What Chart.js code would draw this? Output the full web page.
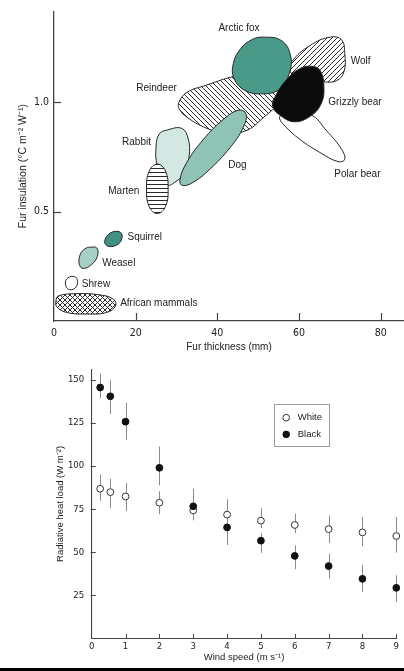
<!DOCTYPE html>
<html><head><meta charset="utf-8">
<script src="https://cdn.jsdelivr.net/npm/chart.js@4.4.1/dist/chart.umd.min.js"></script>
<style>
html,body{margin:0;padding:0;background:#fff;width:404px;height:671px;overflow:hidden}
#top{position:absolute;left:0;top:0;width:404px;height:356px}
#bot{position:absolute;left:0;top:356px;width:404px;height:312px}
#rule{position:absolute;left:0;top:668px;width:404px;height:3px;background:#000}
</style></head><body>
<div id="top"><canvas id="c1"></canvas></div>
<div id="bot"><canvas id="c2"></canvas></div>
<div id="rule"></div>
<script>
// ---------- DATA: upper panel (fur thickness mm, fur insulation °C m-2 W-1) ----------
const topXTicks = [0, 20, 40, 60, 80];
const topYTicks = [0.5, 1.0];

const reindeerOutline = [[30.5,0.995],[32.5,1.044],[37.4,1.078],[43.1,1.113],[49.6,1.139],[55.7,1.123],[57.1,1.071],[55.3,1.003],[51.2,0.928],[46.8,0.868],[41.4,0.860],[36.6,0.887],[32.5,0.932],[30.8,0.965]];
const wolfOutline = [[58.2,1.184],[62.7,1.259],[67.6,1.297],[70.4,1.285],[71.2,1.221],[71.0,1.139],[69.2,1.098],[65.5,1.093],[60.2,1.101],[57.9,1.139]];
const polarBearOutline = [[56.1,0.943],[62.7,0.943],[66.8,0.868],[70.4,0.785],[71.2,0.739],[69.6,0.728],[65.1,0.770],[60.2,0.830],[56.6,0.890],[55.2,0.928]];
const rabbitOutline = [[25.8,0.855],[27.6,0.872],[31.3,0.880],[32.9,0.830],[33.1,0.755],[32.1,0.680],[29.6,0.634],[27.6,0.622],[25.3,0.710],[25.0,0.800]];
const martenOutline = [[25.3,0.717],[27.3,0.685],[27.95,0.604],[27.3,0.523],[25.3,0.491],[23.3,0.523],[22.65,0.604],[23.3,0.685]];
const dogOutline = [[30.8,0.642],[32.5,0.724],[36.6,0.830],[41.4,0.920],[45.1,0.963],[47.0,0.947],[46.3,0.883],[43.1,0.792],[38.2,0.694],[34.1,0.634],[31.5,0.619]];
const arcticFoxOutline = [[51.2,1.297],[55.7,1.281],[57.9,1.214],[57.6,1.131],[55.2,1.059],[51.2,1.038],[46.8,1.053],[44.1,1.108],[43.9,1.176],[45.7,1.244],[48.4,1.285]];
const grizzlyOutline = [[62.7,1.164],[65.1,1.146],[66.1,1.063],[65.3,0.988],[62.7,0.935],[59.0,0.910],[55.7,0.935],[53.5,0.983],[54.5,1.037],[57.0,1.104],[60.1,1.152]];
const squirrelOutline = [[13.7,0.401],[16.0,0.408],[16.7,0.386],[15.7,0.351],[13.3,0.341],[12.4,0.363]];
const weaselOutline = [[8.8,0.337],[10.5,0.333],[10.6,0.295],[9.2,0.258],[7.2,0.240],[6.2,0.258],[6.4,0.303],[7.6,0.330]];
const shrewOutline = [[4.7,0.204],[5.7,0.190],[5.4,0.155],[3.9,0.143],[2.9,0.160],[3.1,0.192]];
const africanOutline = [[1.1,0.115],[5.6,0.125],[11.3,0.119],[14.5,0.100],[15.1,0.070],[12.9,0.039],[8.0,0.032],[3.1,0.039],[0.7,0.065],[0.5,0.095]];

const labelText = ['Arctic fox','Wolf','Reindeer','Grizzly bear','Rabbit','Dog','Polar bear','Marten','Squirrel','Weasel','Shrew','African mammals'];
const labelX = [45.3, 75.1, 25.1, 73.7, 20.2, 44.9, 74.3, 17.1, 18.0, 11.8, 6.8, 16.2];
const labelY = [1.337, 1.187, 1.063, 1.000, 0.815, 0.712, 0.669, 0.595, 0.384, 0.262, 0.170, 0.083];

// ---------- DATA: lower panel ----------
const botXTicks = [0,1,2,3,4,5,6,7,8,9];
const botYTicks = [25,50,75,100,125,150];
const windSpeed = [0.25, 0.55, 1, 2, 3, 4, 5, 6, 7, 8, 9];
const whiteLoad = [86.8, 84.8, 82.3, 78.7, 74.2, 71.8, 68.3, 65.8, 63.4, 61.5, 59.4];
const whiteLow  = [79.8, 75.6, 73.9, 72.1, 68.5, 67.0, 64.0, 61.0, 55.4, 53.5, 49.8];
const whiteHigh = [95.0, 92.5, 90.0, 85.4, 79.0, 80.6, 75.6, 72.3, 71.2, 70.4, 70.4];
const blackLoad = [145.4, 140.3, 125.6, 98.9, 76.6, 64.4, 56.7, 47.9, 42.0, 34.6, 29.4];
const blackLow  = [139.1, 130.1, 115.1, 88.7, 72.0, 54.2, 49.6, 40.2, 34.8, 26.9, 21.3];
const blackHigh = [153.5, 149.7, 136.6, 111.2, 86.8, 69.0, 61.0, 54.0, 49.2, 42.7, 36.7];

// ---------- STYLE ----------
const SANS = "'Liberation Sans', Arial, sans-serif";
const NARROW = "'Liberation Sans Narrow', 'Arial Narrow', 'DejaVu Sans Condensed', sans-serif";
const INK = '#222';

const c1 = document.getElementById('c1');
const ctx1 = c1.getContext('2d');
function makePattern(kind){
  const t = kind === 'horiz' ? 4 : 5;
  const c = document.createElement('canvas'); c.width = t; c.height = t;
  const g = c.getContext('2d');
  g.fillStyle = '#fff'; g.fillRect(0,0,t,t);
  g.strokeStyle = '#2a2a2a'; g.lineWidth = 1;
  g.beginPath();
  if (kind === 'horiz') { g.moveTo(0,0.5); g.lineTo(t,0.5); }
  if (kind === 'back' || kind === 'cross') { for (let k=-1;k<=1;k++){ g.moveTo(k*t,0); g.lineTo(k*t+t,t);} }
  if (kind === 'fwd' || kind === 'cross') { for (let k=-1;k<=1;k++){ g.moveTo(k*t,t); g.lineTo(k*t+t,0);} }
  g.stroke();
  return ctx1.createPattern(c,'repeat');
}
const shapes = [ // back to front
  {name:'Reindeer', pts:reindeerOutline, fill:makePattern('back')},
  {name:'Wolf', pts:wolfOutline, fill:makePattern('fwd')},
  {name:'Polar bear', pts:polarBearOutline, fill:'#ffffff'},
  {name:'Rabbit', pts:rabbitOutline, fill:'#d3e8e3'},
  {name:'Marten', pts:martenOutline, fill:makePattern('horiz')},
  {name:'Dog', pts:dogOutline, fill:'#8fc3b6'},
  {name:'Arctic fox', pts:arcticFoxOutline, fill:'#4a9a8a'},
  {name:'Grizzly bear', pts:grizzlyOutline, fill:'#0b0b0b'},
  {name:'Squirrel', pts:squirrelOutline, fill:'#3f9181'},
  {name:'Weasel', pts:weaselOutline, fill:'#a6d0c6'},
  {name:'Shrew', pts:shrewOutline, fill:'#ffffff'},
  {name:'African mammals', pts:africanOutline, fill:makePattern('cross')}
];

const closedShapes = {
  id:'closedShapes',
  afterDatasetsUpdate(chart){
    chart.getSortedVisibleDatasetMetas().forEach(m => {
      const l = m.dataset; if (!l) return;
      l._loop = true; l._fullLoop = true;
      delete l._segments; l._path = undefined; l._pointsUpdated = false;
    });
  }
};

const tickMarks = {
  id:'tickMarks',
  afterDraw(chart, args, o){
    const {ctx} = chart; const x = chart.scales.x, y = chart.scales.y;
    ctx.save(); ctx.strokeStyle = o.color; ctx.lineWidth = o.width;
    o.xv.forEach(v => { const p = Math.round(x.getPixelForValue(v)) + 0.5;
      ctx.beginPath(); ctx.moveTo(p, y.bottom); ctx.lineTo(p, y.bottom - o.xLen); ctx.stroke(); });
    o.yv.forEach(v => { const p = Math.round(y.getPixelForValue(v)) + 0.5;
      ctx.beginPath(); ctx.moveTo(x.left - o.yOut, p); ctx.lineTo(x.left + o.yIn, p); ctx.stroke(); });
    ctx.restore();
  }
};

const animalLabels = {
  id:'animalLabels',
  afterDatasetsDraw(chart){
    const {ctx} = chart; const x = chart.scales.x, y = chart.scales.y;
    ctx.save(); ctx.fillStyle = INK; ctx.font = "10px " + SANS; ctx.textBaseline = 'middle';
    labelText.forEach((t,i) => {
      ctx.textAlign = i < 8 ? 'center' : 'left';
      ctx.fillText(t, x.getPixelForValue(labelX[i]), y.getPixelForValue(labelY[i]));
    });
    ctx.restore();
  }
};

Chart.defaults.font.family = SANS;
Chart.defaults.color = INK;

const topDatasets = shapes.slice().reverse().map(s => ({
  label: s.name,
  data: s.pts.map(p => ({x:p[0], y:p[1]})),
  backgroundColor: s.fill,
  borderColor: '#262626',
  borderWidth: 1,
  fill: 'shape',
  tension: 0.42,
  pointRadius: 0
}));

new Chart(c1, {
  type:'line',
  data:{datasets: topDatasets},
  plugins:[closedShapes, tickMarks, animalLabels],
  options:{
    responsive:true, maintainAspectRatio:false, animation:false, events:[],
    layout:{padding:{top:7, right:0, left:0, bottom:0}},
    plugins:{
      legend:{display:false}, tooltip:{enabled:false},
      filler:{drawTime:'beforeDatasetDraw'},
      tickMarks:{xv:[20,40,60,80], yv:topYTicks, xLen:8, yIn:7, yOut:0, color:'#444', width:1.2}
    },
    scales:{
      x:{type:'linear', min:0, max:85.7,
        afterBuildTicks: s => { s.ticks = topXTicks.map(v => ({value:v})); },
        afterFit: s => { s.height = 35; },
        grid:{drawOnChartArea:false, drawTicks:false},
        border:{display:true, color:'#444', width:1.3},
        ticks:{padding:5.7, font:{family:NARROW, size:10.5}, color:INK, maxRotation:0, autoSkip:false, callback: v => String(v)},
        title:{display:true, text:'Fur thickness (mm)', font:{family:SANS, size:10}, color:INK, padding:{top:0, bottom:2.5}}
      },
      y:{type:'linear', min:0, max:1.415,
        afterBuildTicks: s => { s.ticks = topYTicks.map(v => ({value:v})); },
        afterFit: s => { s.width = 54; },
        grid:{drawOnChartArea:false, drawTicks:false},
        border:{display:true, color:'#444', width:1.3},
        ticks:{padding:5, font:{family:NARROW, size:10.5}, color:INK, autoSkip:false, callback: v => Number(v).toFixed(1)},
        title:{display:true, text:'Fur insulation (°C m⁻² W⁻¹)', font:{family:SANS, size:10.5}, color:INK, padding:{top:16.7, bottom:0}}
      }
    }
  }
});

// ---------- lower chart ----------
const errorBars = {
  id:'errorBars',
  beforeDatasetsDraw(chart){
    const {ctx} = chart; const x = chart.scales.x, y = chart.scales.y;
    ctx.save(); ctx.strokeStyle = '#8a8a8a'; ctx.lineWidth = 1;
    const bar = (lo, hi) => windSpeed.forEach((w,i) => {
      const p = Math.round(x.getPixelForValue(w)) + 0.5;
      ctx.beginPath(); ctx.moveTo(p, y.getPixelForValue(lo[i])); ctx.lineTo(p, y.getPixelForValue(hi[i])); ctx.stroke();
    });
    bar(whiteLow, whiteHigh); bar(blackLow, blackHigh);
    ctx.restore();
  }
};
const boxLegend = {
  id:'boxLegend',
  afterDraw(chart){
    const {ctx} = chart; const ca = chart.chartArea;
    const L = ca.left + 182.5, T = ca.top + 35;
    ctx.save();
    ctx.strokeStyle = '#9a9a9a'; ctx.lineWidth = 1;
    ctx.strokeRect(Math.round(L)+0.5, Math.round(T)+0.5, 55, 42);
    const items = chart.data.datasets;
    items.slice().sort((a,b)=> a.legendIndex - b.legendIndex).forEach((d,i) => {
      const cy = T + 13.5 + i*16.7;
      ctx.beginPath(); ctx.arc(L + 12, cy, 3.3, 0, Math.PI*2);
      ctx.fillStyle = d.pointBackgroundColor; ctx.fill();
      ctx.strokeStyle = d.pointBorderColor; ctx.lineWidth = 1; ctx.stroke();
      ctx.fillStyle = INK; ctx.font = "9.5px " + SANS; ctx.textAlign = 'left'; ctx.textBaseline = 'middle';
      ctx.fillText(d.label, L + 23.5, cy);
    });
    ctx.restore();
  }
};

new Chart(document.getElementById('c2'), {
  type:'scatter',
  data:{datasets:[
    {label:'Black', legendIndex:1, order:0, clip:false, data: windSpeed.map((w,i)=>({x:w, y:blackLoad[i]})),
     pointRadius:3.4, pointBackgroundColor:'#111', pointBorderColor:'#111', pointBorderWidth:1},
    {label:'White', legendIndex:0, order:1, clip:false, data: windSpeed.map((w,i)=>({x:w, y:whiteLoad[i]})),
     pointRadius:3.4, pointBackgroundColor:'#ffffff', pointBorderColor:'#333', pointBorderWidth:1}
  ]},
  plugins:[errorBars, tickMarks, boxLegend],
  options:{
    responsive:true, maintainAspectRatio:false, animation:false, events:[],
    layout:{padding:{top:12.3, right:7.7, left:0, bottom:0}},
    plugins:{
      legend:{display:false}, tooltip:{enabled:false},
      tickMarks:{xv:[1,2,3,4,5,6,7,8,9], yv:botYTicks, xLen:4.5, yIn:4, yOut:1, color:'#444', width:1}
    },
    scales:{
      x:{type:'linear', min:0, max:9,
        afterBuildTicks: s => { s.ticks = botXTicks.map(v => ({value:v})); },
        afterFit: s => { s.height = 29.4; },
        grid:{drawOnChartArea:false, drawTicks:false},
        border:{display:true, color:'#444', width:1.1},
        ticks:{padding:2.4, font:{family:NARROW, size:9.5}, color:INK, maxRotation:0, autoSkip:false},
        title:{display:true, text:'Wind speed (m s⁻¹)', font:{family:SANS, size:9.5}, color:INK, padding:{top:0, bottom:5.3}}
      },
      y:{type:'linear', min:0, max:156,
        afterBuildTicks: s => { s.ticks = botYTicks.map(v => ({value:v})); },
        afterFit: s => { s.width = 91.7; },
        grid:{drawOnChartArea:false, drawTicks:false},
        border:{display:true, color:'#444', width:1.1},
        ticks:{padding:7.5, font:{family:NARROW, size:9.5}, color:INK, autoSkip:false},
        title:{display:true, text:'Radiative heat load (W m⁻²)', font:{family:SANS, size:9.5}, color:INK, padding:{top:54.3, bottom:0}}
      }
    }
  }
});
</script>
</body></html>
